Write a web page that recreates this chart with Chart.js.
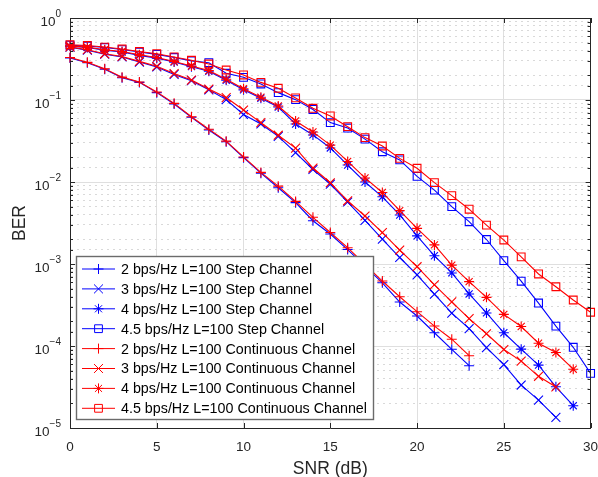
<!DOCTYPE html>
<html>
<head>
<meta charset="utf-8">
<script src="https://cdn.jsdelivr.net/npm/chart.js@4.4.0/dist/chart.umd.min.js"></script>
<style>
  html, body { margin: 0; padding: 0; background: #fff; }
  #wrap { width: 598px; height: 477px; }
</style>
</head>
<body>
<div id="wrap"><canvas id="ber" width="598" height="477"></canvas></div>
<script>
const snr = [0, 1, 2, 3, 4, 5, 6, 7, 8, 9, 10, 11, 12, 13, 14, 15, 16, 17, 18, 19, 20, 21, 22, 23, 24, 25, 26, 27, 28, 29, 30];

const ber2Step = [0.325, 0.285, 0.237, 0.187, 0.164, 0.123, 0.0894, 0.0615, 0.043, 0.031, 0.0198, 0.0128, 0.0085, 0.0056, 0.00337, 0.00232, 0.0015, 0.00094, 0.00059, 0.000344, 0.000232, 0.000145, 0.0000912, 0.0000575];
const ber3Step = [0.44, 0.405, 0.362, 0.335, 0.29, 0.253, 0.205, 0.172, 0.133, 0.101, 0.0665, 0.051, 0.036, 0.0228, 0.0142, 0.0094, 0.0057, 0.0034, 0.00201, 0.0012, 0.000736, 0.000428, 0.000252, 0.000163, 0.0000956, 0.0000594, 0.0000334, 0.0000219, 0.0000135];
const ber4Step = [0.452, 0.436, 0.404, 0.385, 0.35, 0.324, 0.29, 0.255, 0.224, 0.174, 0.133, 0.105, 0.082, 0.0509, 0.0375, 0.026, 0.0161, 0.01, 0.0066, 0.00396, 0.0022, 0.00126, 0.000778, 0.000431, 0.000253, 0.000145, 0.0000915, 0.0000585, 0.0000318, 0.0000187];
const ber45Step = [0.466, 0.456, 0.436, 0.412, 0.385, 0.36, 0.33, 0.3, 0.285, 0.212, 0.189, 0.157, 0.123, 0.101, 0.0767, 0.053, 0.0455, 0.0333, 0.0234, 0.0186, 0.0117, 0.00797, 0.00501, 0.00328, 0.00199, 0.0011, 0.000617, 0.000334, 0.000175, 0.0000964, 0.0000463];

const ber2Cont = [0.33, 0.288, 0.24, 0.19, 0.166, 0.125, 0.091, 0.0625, 0.044, 0.0315, 0.0202, 0.0131, 0.0089, 0.0058, 0.00371, 0.00242, 0.00158, 0.00099, 0.00062, 0.000399, 0.000262, 0.000175, 0.000121, 0.0000762];
const ber3Cont = [0.445, 0.41, 0.366, 0.34, 0.296, 0.258, 0.21, 0.175, 0.136, 0.107, 0.0755, 0.053, 0.0372, 0.0259, 0.0148, 0.0098, 0.0059, 0.00385, 0.00242, 0.00148, 0.000927, 0.000558, 0.000345, 0.000216, 0.000141, 0.0000906, 0.0000654, 0.0000427, 0.0000317];
const ber4Cont = [0.457, 0.441, 0.41, 0.39, 0.356, 0.33, 0.295, 0.26, 0.229, 0.179, 0.137, 0.108, 0.0845, 0.0555, 0.0408, 0.0282, 0.0178, 0.0112, 0.00745, 0.00448, 0.00272, 0.00171, 0.000969, 0.00061, 0.000392, 0.000243, 0.000173, 0.000108, 0.0000833, 0.0000521];
const ber45Cont = [0.472, 0.462, 0.442, 0.418, 0.39, 0.367, 0.335, 0.305, 0.275, 0.232, 0.202, 0.164, 0.139, 0.106, 0.0792, 0.0639, 0.0473, 0.0348, 0.0275, 0.0194, 0.0147, 0.00981, 0.00681, 0.00466, 0.00298, 0.00196, 0.00122, 0.000756, 0.000528, 0.000364, 0.000258];

const seriesLabels = [
  "2 bps/Hz L=100 Step Channel",
  "3 bps/Hz L=100 Step Channel",
  "4 bps/Hz L=100 Step Channel",
  "4.5 bps/Hz L=100 Step Channel",
  "2 bps/Hz L=100 Continuous Channel",
  "3 bps/Hz L=100 Continuous Channel",
  "4 bps/Hz L=100 Continuous Channel",
  "4.5 bps/Hz L=100 Continuous Channel",
];
const xTicks = [0, 5, 10, 15, 20, 25, 30];
const yExponents = [0, -1, -2, -3, -4, -5];

const FONT = "'Liberation Sans', Arial, Helvetica, sans-serif";
const BLUE = "#0000ff";
const RED = "#ff0000";
const AXIS = "#262626";

const markers = ["cross", "crossRot", "star", "rect"];
const markerRadius = { cross: 5, crossRot: 6.3, star: 5, rect: 5.5 };

const isDecade = (v) => Math.abs(Math.log10(v) - Math.round(Math.log10(v))) < 1e-6;

function points(values) {
  return values.map((v, i) => ({ x: snr[i], y: v }));
}

function makeSet(label, values, color, marker, order) {
  return {
    label,
    data: points(values),
    borderColor: color,
    backgroundColor: "transparent",
    pointBorderColor: color,
    pointBackgroundColor: "transparent",
    borderWidth: 1.1,
    pointBorderWidth: 1.1,
    pointStyle: marker,
    pointRadius: markerRadius[marker],
    pointHoverRadius: markerRadius[marker],
    tension: 0,
    clip: false,
    order,
  };
}

const stepSeries = [ber2Step, ber3Step, ber4Step, ber45Step];
const contSeries = [ber2Cont, ber3Cont, ber4Cont, ber45Cont];

const datasets = [
  ...stepSeries.map((s, i) => makeSet(seriesLabels[i], s, BLUE, markers[i], 1)),
  ...contSeries.map((s, i) => makeSet(seriesLabels[i + 4], s, RED, markers[i], 0)),
];

function drawMarker(ctx, style, x, y, r) {
  ctx.beginPath();
  if (style === "cross" || style === "star") {
    ctx.moveTo(x - r, y); ctx.lineTo(x + r, y);
    ctx.moveTo(x, y - r); ctx.lineTo(x, y + r);
  }
  if (style === "crossRot" || style === "star") {
    const d = r * Math.SQRT1_2;
    ctx.moveTo(x - d, y - d); ctx.lineTo(x + d, y + d);
    ctx.moveTo(x - d, y + d); ctx.lineTo(x + d, y - d);
  }
  if (style === "rect") {
    const s = r * Math.SQRT1_2;
    ctx.rect(x - s, y - s, 2 * s, 2 * s);
  }
  ctx.stroke();
}

// box on top/right, inward tick marks, 10^n labels, legend inside the axes
const matlabAxes = {
  id: "matlabAxes",
  afterDraw(chart) {
    const { ctx, chartArea: a, scales } = chart;
    ctx.save();
    ctx.strokeStyle = AXIS;
    ctx.lineWidth = 1;
    ctx.beginPath();
    ctx.moveTo(a.left, Math.round(a.top) + 0.5);
    ctx.lineTo(a.right, Math.round(a.top) + 0.5);
    ctx.moveTo(Math.round(a.right) - 0.5, a.top);
    ctx.lineTo(Math.round(a.right) - 0.5, a.bottom);
    scales.y.ticks.forEach((t) => {
      const py = Math.round(scales.y.getPixelForValue(t.value)) + 0.5;
      const len = isDecade(t.value) ? 5 : 3;
      ctx.moveTo(a.left, py); ctx.lineTo(a.left + len, py);
      ctx.moveTo(a.right, py); ctx.lineTo(a.right - len, py);
    });
    scales.x.ticks.forEach((t) => {
      const px = Math.round(scales.x.getPixelForValue(t.value)) + 0.5;
      ctx.moveTo(px, a.bottom); ctx.lineTo(px, a.bottom - 5);
      ctx.moveTo(px, a.top); ctx.lineTo(px, a.top + 5);
    });
    ctx.stroke();

    // y tick labels as 10 with a raised exponent
    ctx.fillStyle = AXIS;
    ctx.textBaseline = "alphabetic";
    yExponents.forEach((e) => {
      const py = scales.y.getPixelForValue(Math.pow(10, e));
      const exp = e === 0 ? "0" : "\u2212" + String(-e);
      ctx.font = "10px " + FONT;
      const ew = ctx.measureText(exp).width;
      const right = a.left - 9;
      ctx.textAlign = "left";
      ctx.fillText(exp, right - ew, py - 1);
      ctx.font = "13.5px " + FONT;
      ctx.textAlign = "right";
      ctx.fillText("10", right - ew, py + 8);
    });

    // legend
    const lx = 76.5, ly = 256.5, lw = 297, lh = 163;
    ctx.fillStyle = "#fff";
    ctx.fillRect(lx, ly, lw, lh);
    ctx.strokeStyle = "#6b6b6b";
    ctx.lineWidth = 1.4;
    ctx.strokeRect(lx, ly, lw, lh);
    ctx.font = "14.3px " + FONT;
    ctx.textBaseline = "middle";
    ctx.textAlign = "left";
    chart.data.datasets.forEach((ds, i) => {
      const rowY = 269 + i * 19.9;
      ctx.strokeStyle = ds.borderColor;
      ctx.lineWidth = 1;
      ctx.beginPath();
      ctx.moveTo(82, rowY); ctx.lineTo(115, rowY);
      ctx.stroke();
      drawMarker(ctx, ds.pointStyle, 98.5, rowY, ds.pointRadius);
      ctx.fillStyle = "#000";
      ctx.fillText(ds.label, 121, rowY + 1);
    });
    ctx.restore();
  },
};

new Chart(document.getElementById("ber"), {
  type: "line",
  data: { datasets },
  options: {
    responsive: false,
    animation: false,
    layout: { padding: { top: 18, right: 6, left: 0, bottom: 0 } },
    plugins: { legend: { display: false }, tooltip: { enabled: false } },
    scales: {
      x: {
        type: "linear",
        min: 0,
        max: 30,
        afterFit: (s) => { s.height = 49; s.paddingLeft = 0; s.paddingRight = 0; },
        afterBuildTicks: (s) => { s.ticks = xTicks.map((v) => ({ value: v })); },
        ticks: { color: AXIS, padding: 11, font: { family: FONT, size: 13.5 }, maxRotation: 0 },
        grid: { color: "#dfdfdf", lineWidth: 1, drawTicks: false },
        border: { color: AXIS, width: 1 },
        title: {
          display: true,
          text: "SNR (dB)",
          color: AXIS,
          font: { family: FONT, size: 17.5, lineHeight: 1 },
          padding: { top: 0, bottom: -1 },
        },
      },
      y: {
        type: "logarithmic",
        min: 1e-5,
        max: 1,
        afterFit: (s) => { s.width = 70; s.paddingTop = 0; s.paddingBottom = 0; },
        ticks: {
          autoSkip: false,
          padding: 8,
          font: { family: FONT, size: 13.5 },
          callback: () => "",
        },
        grid: {
          color: (c) => (c.tick && !isDecade(c.tick.value) ? "#d9d9d9" : "#dfdfdf"),
          lineWidth: 1,
          drawTicks: false,
        },
        border: {
          color: AXIS,
          width: 1,
          dash: (c) => (c.tick && !isDecade(c.tick.value) ? [2, 4] : []),
        },
        title: {
          display: true,
          text: "BER",
          color: AXIS,
          font: { family: FONT, size: 17.5, lineHeight: 1.2 },
          padding: { top: 10, bottom: 0 },
        },
      },
    },
  },
  plugins: [matlabAxes],
});
</script>
</body>
</html>
